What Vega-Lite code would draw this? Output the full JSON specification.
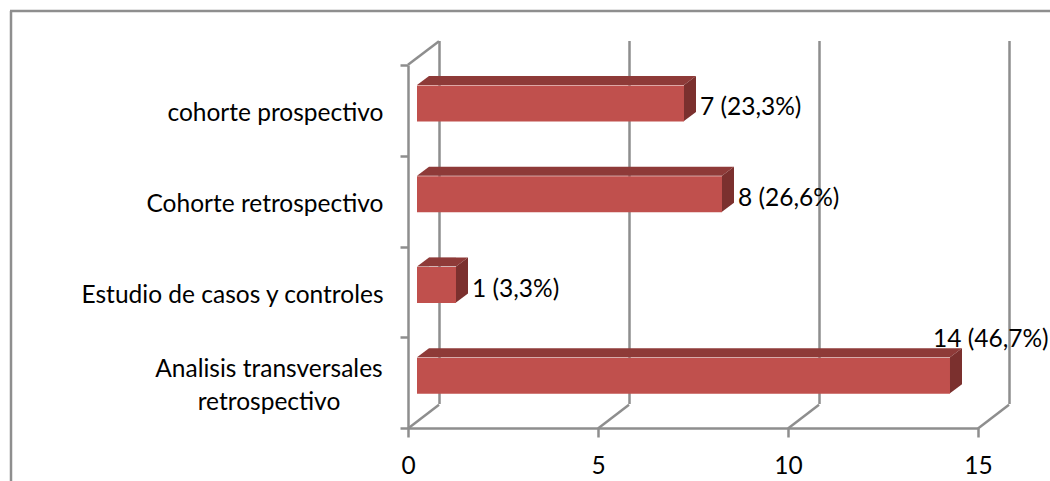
{"$schema":"https://vega.github.io/schema/vega-lite/v6.json","width":570,"height":363,"autosize":"none","padding":{"left":408,"top":65,"right":72,"bottom":53},"background":"white","config":{"view":{"stroke":null},"font":"Lato"},"datasets":{"bars":[{"tipo":"cohorte prospectivo","n":7,"etiqueta":"7 (23,3%)"},{"tipo":"Cohorte retrospectivo","n":8,"etiqueta":"8 (26,6%)"},{"tipo":"Estudio de casos y controles","n":1,"etiqueta":"1 (3,3%)"},{"tipo":"Analisis transversales retrospectivo","n":14,"etiqueta":"14 (46,7%)"}],"ticks":[{"v":0},{"v":5},{"v":10},{"v":15}]},"encoding":{"y":{"field":"tipo","type":"nominal","sort":null,"scale":{"domain":["cohorte prospectivo","Cohorte retrospectivo","Estudio de casos y controles","Analisis transversales retrospectivo"],"paddingInner":0,"paddingOuter":0},"axis":{"title":null,"domainColor":"#8e8e8e","domainWidth":2.5,"tickColor":"#8e8e8e","tickWidth":2.5,"tickSize":8,"tickBand":"extent","labelFontSize":24.5,"labelColor":"#000000","labelFont":"Lato","labelPadding":17,"labelOffset":3.5,"labelLimit":400,"labelLineHeight":33,"labelExpr":"datum.label == 'Analisis transversales retrospectivo' ? ['Analisis transversales','retrospectivo'] : datum.label","encoding":{"labels":{"align":{"condition":{"test":"datum.value == 'Analisis transversales retrospectivo'","value":"center"},"value":"right"},"dx":{"condition":{"test":"datum.value == 'Analisis transversales retrospectivo'","value":-114.5},"value":0},"dy":{"condition":{"test":"datum.value == 'Analisis transversales retrospectivo'","value":-17},"value":0}}}}},"x":{"type":"quantitative","scale":{"domain":[0,15],"nice":false,"zero":false}}},"layer":[{"data":{"name":"ticks"},"mark":{"type":"rule","color":"#8e8e8e","strokeWidth":2.5,"yOffset":-24,"y2Offset":-24},"encoding":{"x":{"field":"v","type":"quantitative","axis":{"title":null,"values":[0,5,10,15],"grid":false,"domainColor":"#8e8e8e","domainWidth":2.5,"tickColor":"#8e8e8e","tickWidth":2.5,"tickSize":9,"labelFontSize":24.5,"labelColor":"#000000","labelFont":"Lato","labelPadding":17,"labelFlush":false}},"xOffset":{"value":31.5},"y":{"value":0},"y2":{"value":363}}},{"data":{"name":"ticks"},"mark":{"type":"point","shape":"M-1,0.76L1,-0.76","size":961,"filled":false,"opacity":1,"stroke":"#8e8e8e","strokeWidth":2.5,"xOffset":15.5,"yOffset":34},"encoding":{"x":{"field":"v","type":"quantitative"},"y":{"datum":"Analisis transversales retrospectivo"}}},{"data":{"values":[{"v":0}]},"mark":{"type":"point","shape":"M-1,0.76L1,-0.76","size":961,"filled":false,"opacity":1,"stroke":"#8e8e8e","strokeWidth":2.5,"xOffset":15.5,"yOffset":-57.4},"encoding":{"x":{"field":"v","type":"quantitative"},"y":{"datum":"cohorte prospectivo"}}},{"data":{"values":[{"v":0,"w":15}]},"mark":{"type":"rule","color":"#8e8e8e","strokeWidth":2.5,"xOffset":-398,"x2Offset":72,"yOffset":-54},"encoding":{"x":{"field":"v","type":"quantitative"},"x2":{"field":"w"},"y":{"value":0}}},{"data":{"values":[{"v":0}]},"mark":{"type":"rule","color":"#8e8e8e","strokeWidth":2.5,"xOffset":-397,"yOffset":-54,"y2Offset":53},"encoding":{"x":{"field":"v","type":"quantitative"},"y":{"value":0},"y2":{"value":363}}},{"data":{"name":"bars"},"mark":{"type":"bar","color":"#c0504d","size":36,"xOffset":10,"x2Offset":9,"yOffset":-7},"encoding":{"x":{"field":"n","type":"quantitative","stack":null},"x2":{"datum":0}}},{"data":{"name":"bars"},"mark":{"type":"bar","color":"#8e3a38","size":9,"xOffset":10,"x2Offset":21,"yOffset":-30},"encoding":{"x":{"field":"n","type":"quantitative","stack":null},"x2":{"datum":0}}},{"data":{"name":"bars"},"mark":{"type":"point","shape":"M-1,0.75L-1,-0.75L1,-0.75Z","size":144,"filled":true,"opacity":1,"color":"#8e3a38","xOffset":16,"yOffset":-30},"encoding":{"x":{"field":"n","type":"quantitative"}}},{"data":{"name":"bars"},"mark":{"type":"point","shape":"M-1,0.75L1,0.75L1,-0.75Z","size":144,"filled":true,"opacity":1,"color":"#8e3a38","xOffset":15,"yOffset":-30},"encoding":{"x":{"datum":0}}},{"data":{"name":"bars"},"mark":{"type":"point","shape":"M-0.2667,-0.6L0.2667,-1L0.2667,0.6L-0.2667,1Z","size":2025,"filled":true,"opacity":1,"color":"#7b302e","xOffset":16,"yOffset":-12},"encoding":{"x":{"field":"n","type":"quantitative"}}},{"data":{"name":"bars"},"transform":[{"filter":"datum.n != 14"}],"mark":{"type":"text","align":"left","baseline":"middle","font":"Lato","fontSize":24.5,"color":"#000000","xOffset":26,"yOffset":-2},"encoding":{"x":{"field":"n","type":"quantitative"},"text":{"field":"etiqueta"}}},{"data":{"name":"bars"},"transform":[{"filter":"datum.n == 14"}],"mark":{"type":"text","align":"left","baseline":"middle","font":"Lato","fontSize":24.5,"color":"#000000","xOffset":-7,"yOffset":-43},"encoding":{"x":{"field":"n","type":"quantitative"},"text":{"field":"etiqueta"}}}]}
